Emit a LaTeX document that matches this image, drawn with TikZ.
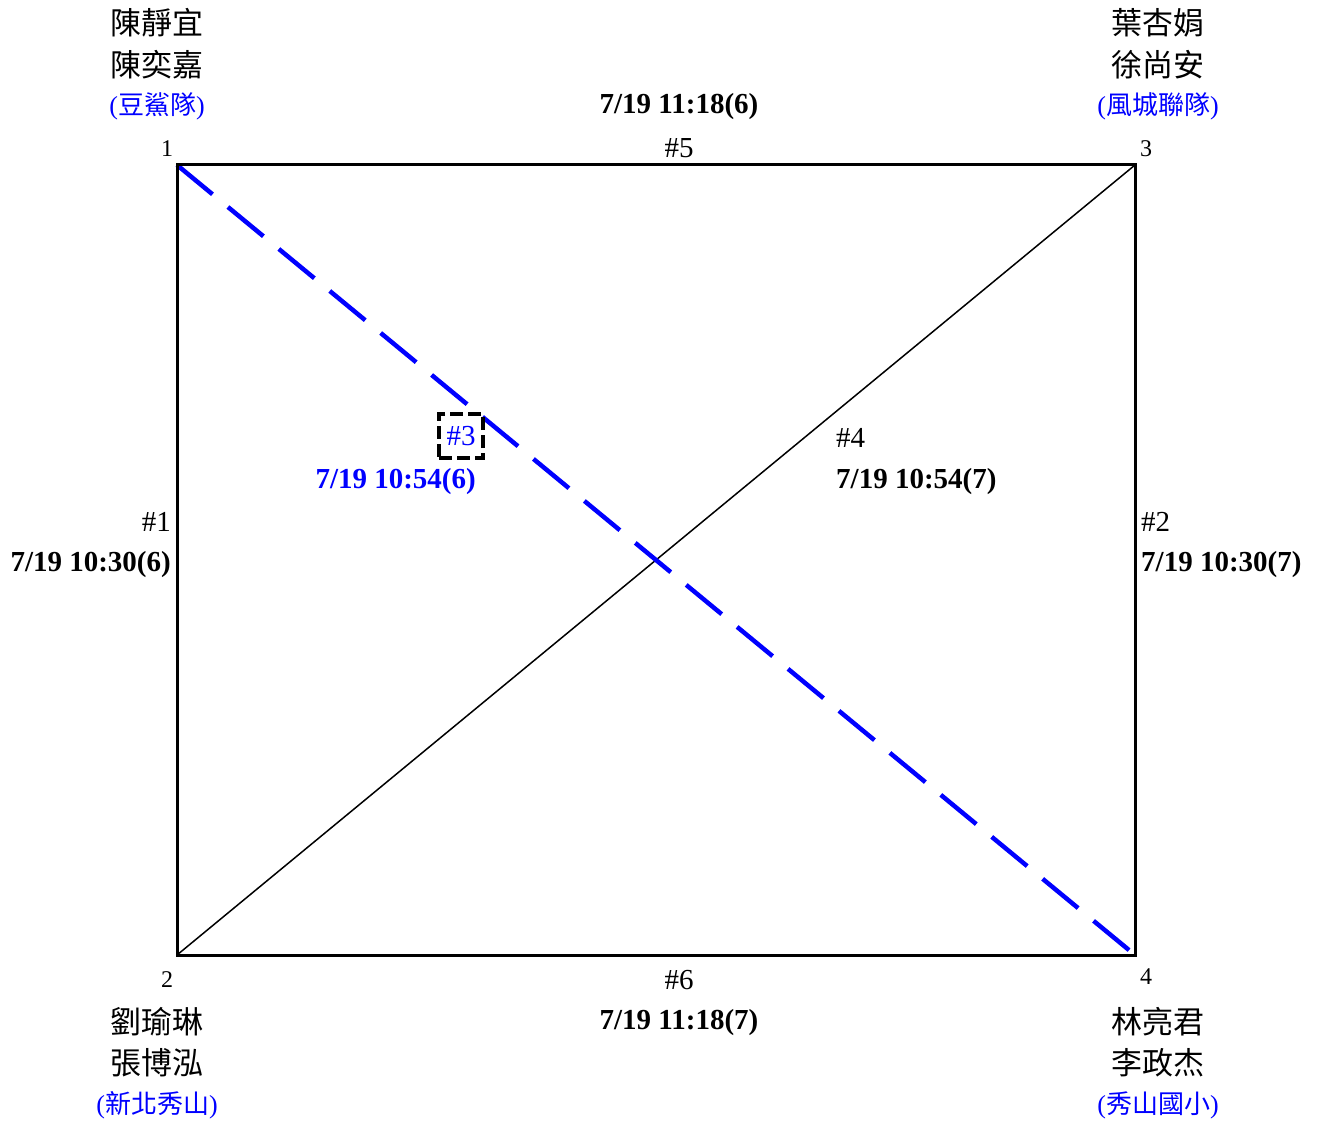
\documentclass[tikz,border=0pt]{standalone}
\usepackage{fontspec}
\setmainfont{Liberation Serif}
\newfontfamily\cjk{Noto Sans CJK TC}
\usetikzlibrary{positioning}

\tikzset{
  player/.style={font={\cjk\fontsize{31}{31}\selectfont}, inner sep=0pt},
  team/.style={font={\fontsize{26}{26}\selectfont}, text=blue, inner sep=0pt},
  seat/.style={font={\fontsize{24}{24}\selectfont}, inner sep=0pt},
  gameno/.style={font={\fontsize{29}{29}\selectfont}, inner sep=0pt},
  gametime/.style={font={\bfseries\fontsize{29}{29}\selectfont}, inner sep=0pt},
  side/.style={line width=3pt},
  cross/.style={line width=1.5pt},
  played/.style={blue, line width=4.5pt, dash pattern=on 46pt off 20pt},
}

\begin{document}
\begin{tikzpicture}[x=1pt,y=-1pt]
\useasboundingbox (0,0) rectangle (1318,1121);
% seats
\coordinate (v1) at (177,165);
\coordinate (v3) at (1135,165);
\coordinate (v2) at (177,955);
\coordinate (v4) at (1135,955);
% games
\draw[cross] (v2) -- (v3);
\draw[played] (v1) -- (v4);
\draw[side] (v1) -- (v3) -- (v4) -- (v2) -- cycle;
% seat numbers
\node[seat] (s1) at (167,149) {1};
\node[seat] (s3) at (1146,149) {3};
\node[seat] (s2) at (167,980) {2};
\node[seat] (s4) at (1146,977) {4};
% pairs
\node[player] (p1a) at (157,23) {陳靜宜};
\node[player] (p1b) at (157,65) {陳奕嘉};
\node[team] (t1) at (157,106) {({\cjk 豆鯊隊})};
\node[player] (p3a) at (1158,23) {葉杏娟};
\node[player] (p3b) at (1158,65) {徐尚安};
\node[team] (t3) at (1158,106) {({\cjk 風城聯隊})};
\node[player] (p2a) at (157,1022) {劉瑜琳};
\node[player] (p2b) at (157,1063) {張博泓};
\node[team] (t2) at (157,1105) {({\cjk 新北秀山})};
\node[player] (p4a) at (1158,1022) {林亮君};
\node[player] (p4b) at (1158,1063) {李政杰};
\node[team] (t4) at (1158,1105) {({\cjk 秀山國小})};
% game labels
\node[gameno] (g5) at (679,148) {\#5};
\node[gametime] (d5) at (679,107) {7/19 11:18(6)};
\node[gameno] (g6) at (679,980) {\#6};
\node[gametime] (d6) at (679,1023) {7/19 11:18(7)};
\node[gameno, anchor=east] (g1) at (171,522) {\#1};
\node[gametime, anchor=east] (d1) at (171,565) {7/19 10:30(6)};
\node[gameno, anchor=west] (g2) at (1141,522) {\#2};
\node[gametime, anchor=west] (d2) at (1141,565) {7/19 10:30(7)};
\node[gameno, anchor=west] (g4) at (836,438) {\#4};
\node[gametime, anchor=west] (d4) at (836,482) {7/19 10:54(7)};
\node[gameno, text=blue, draw=black, line width=4pt, dash pattern=on 13pt off 5pt,
  minimum width=44pt, minimum height=44pt] (g3) at (461,436) {\#3};
\node[gametime, text=blue, anchor=east] (d3) at (476,482) {7/19 10:54(6)};
\end{tikzpicture}
\end{document}
